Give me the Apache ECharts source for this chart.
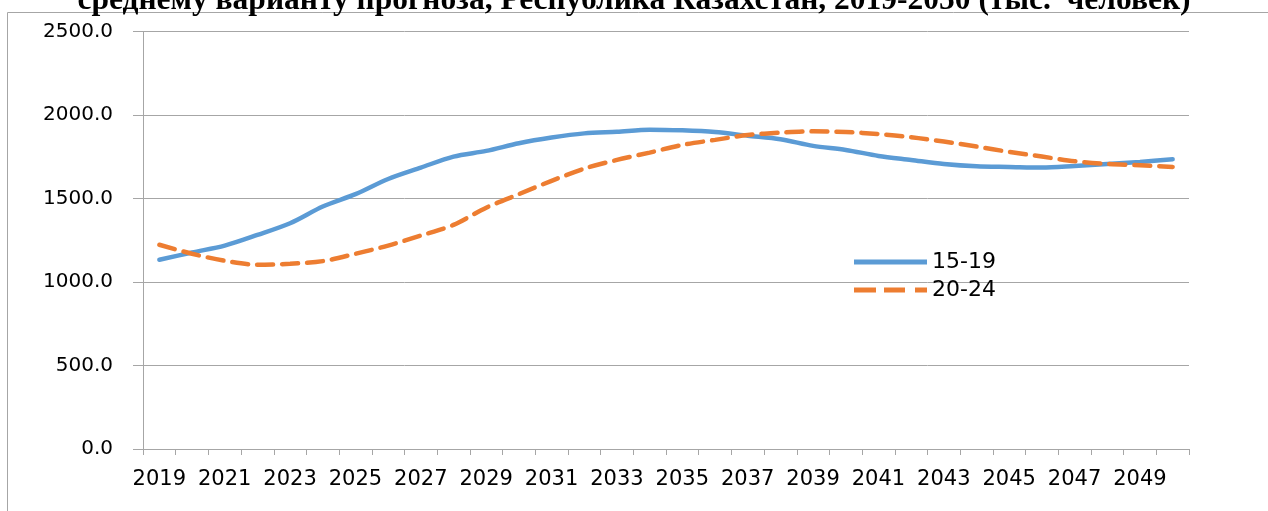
<!DOCTYPE html>
<html>
<head>
<meta charset="utf-8">
<script src="https://cdn.jsdelivr.net/npm/echarts@6/dist/echarts.min.js"></script>
<style>
html,body{margin:0;padding:0;background:#fff;}
#chart{width:1268px;height:511px;}
</style>
</head>
<body>
<div id="chart"></div>
<script>
const titleText = "среднему варианту прогноза, Республика Казахстан, 2019-2050 (тыс.  человек)";
const years = ["2019","2020","2021","2022","2023","2024","2025","2026","2027","2028","2029","2030","2031","2032","2033","2034","2035","2036","2037","2038","2039","2040","2041","2042","2043","2044","2045","2046","2047","2048","2049","2050"];
const seriesNames = ["15-19","20-24"];
const age15_19 = [1133,1177,1218,1282,1352,1452,1526,1617,1685,1751,1785,1831,1865,1890,1900,1912,1908,1898,1876,1855,1815,1791,1755,1731,1707,1693,1689,1685,1695,1707,1719,1735];
const age20_24 = [1223,1169,1127,1103,1109,1125,1169,1218,1278,1342,1445,1526,1606,1679,1731,1775,1821,1851,1880,1894,1902,1898,1886,1867,1841,1811,1779,1751,1723,1707,1699,1689];
const yTicks = [0,500,1000,1500,2000,2500];

const chart = echarts.init(document.getElementById('chart'), null, {renderer:'canvas'});
const gray = '#a6a6a6';
const blue = '#5B9BD5', orange = '#ED7D31';
chart.setOption({
  animation:false,
  backgroundColor:'#fff',
  title:{
    text:titleText,
    left:'center',
    top:-20,
    textStyle:{fontFamily:'Liberation Serif',fontWeight:'bold',fontSize:31.5,color:'#000'}
  },
  graphic:[{
    type:'rect',
    shape:{x:7.5,y:12.5,width:1400,height:700},
    style:{fill:'none',stroke:gray,lineWidth:1},
    silent:true,z:-1
  }],
  grid:{left:143,right:79,top:31.5,bottom:62,containLabel:false},
  legend:{
    show:true,
    orient:'vertical',
    left:849,top:246,
    itemWidth:73,itemHeight:5,itemGap:6,
    symbolKeepAspect:false,
    data:[
      {name:seriesNames[0],icon:'path://M0,0h73v5h-73z',itemStyle:{color:blue}},
      {name:seriesNames[1],icon:'path://M0,0h22v5h-22z M30,0h21v5h-21z M61,0h12v5h-12z',itemStyle:{color:orange}}
    ],
    textStyle:{fontFamily:'DejaVu Sans',fontSize:22,color:'#000',padding:[0,0,0,0]}
  },
  xAxis:{
    type:'category',
    data:years,
    boundaryGap:true,
    axisLine:{lineStyle:{color:gray,width:1}},
    axisTick:{show:true,interval:0,length:6,lineStyle:{color:gray}},
    axisLabel:{interval:1,margin:20,fontFamily:'DejaVu Sans',fontSize:21,color:'#000'},
    splitLine:{show:false}
  },
  yAxis:{
    type:'value',
    min:yTicks[0],max:yTicks[yTicks.length-1],interval:500,
    axisLine:{show:true,lineStyle:{color:gray,width:1}},
    axisTick:{show:true,length:10,lineStyle:{color:gray}},
    axisLabel:{margin:30,fontFamily:'DejaVu Sans',fontSize:20,color:'#000',formatter:v=>v.toFixed(1)},
    splitLine:{show:true,lineStyle:{color:gray,width:1}}
  },
  series:[
    {name:seriesNames[0],type:'line',data:age15_19,smooth:0.3,showSymbol:false,symbol:'none',
     lineStyle:{color:blue,width:4.5,cap:'round'},itemStyle:{color:blue}},
    {name:seriesNames[1],type:'line',data:age20_24,smooth:0.3,showSymbol:false,symbol:'none',
     lineStyle:{color:orange,width:4.5,type:[16,9],cap:'round'},itemStyle:{color:orange}}
  ]
});
</script>
</body>
</html>
